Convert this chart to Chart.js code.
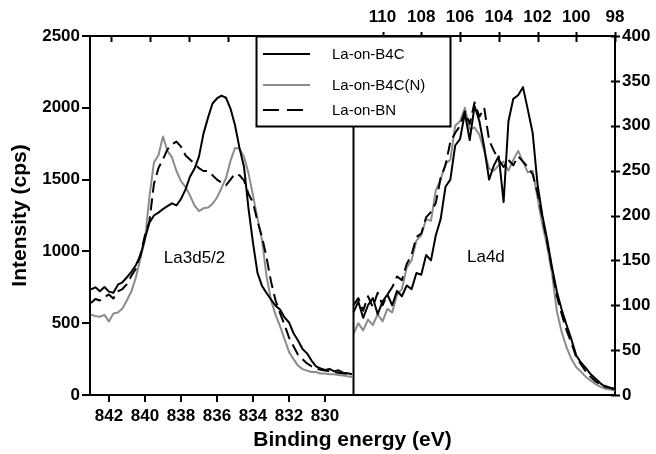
<!DOCTYPE html>
<html><head><meta charset="utf-8">
<script src="https://cdn.jsdelivr.net/npm/chart.js@4.4.1/dist/chart.umd.min.js"></script>
<style>html,body{margin:0;padding:0;background:#fff;}canvas{display:block;}</style>
</head><body>
<canvas id="c" width="656" height="454"></canvas>
<script>
// ---- data ----
const seriesNames = ['La-on-B4C', 'La-on-B4C(N)', 'La-on-BN'];
const panelLabels = ['La3d5/2', 'La4d'];

const energy3d = [843.0, 842.75, 842.5, 842.25, 842.0, 841.75, 841.5, 841.25, 841.0, 840.75, 840.5, 840.25, 840.0, 839.75, 839.5, 839.25, 839.0, 838.75, 838.5, 838.25, 838.0, 837.75, 837.5, 837.25, 837.0, 836.75, 836.5, 836.25, 836.0, 835.75, 835.5, 835.25, 835.0, 834.75, 834.5, 834.25, 834.0, 833.75, 833.5, 833.25, 833.0, 832.75, 832.5, 832.25, 832.0, 831.75, 831.5, 831.25, 831.0, 830.75, 830.5, 830.25, 830.0, 829.75, 829.5, 829.25, 829.0, 828.75, 828.5];
const b4c3d = [735, 750, 722, 752, 720, 712, 768, 785, 820, 858, 905, 970, 1090, 1200, 1250, 1270, 1295, 1315, 1335, 1320, 1365, 1430, 1520, 1575, 1660, 1820, 1930, 2030, 2065, 2085, 2070, 1995, 1880, 1720, 1590, 1300, 1060, 850, 760, 710, 665, 622, 595, 540, 505, 430, 380, 320, 290, 240, 200, 185, 175, 182, 165, 172, 155, 152, 145];
const b4cN3d = [560, 550, 545, 558, 512, 568, 575, 602, 660, 722, 820, 950, 1080, 1380, 1620, 1670, 1800, 1700, 1655, 1560, 1490, 1450, 1390, 1320, 1280, 1300, 1305, 1330, 1375, 1440, 1510, 1630, 1720, 1715, 1660, 1545, 1390, 1230, 1080, 830, 660, 560, 480, 390, 300, 250, 205, 180, 170, 160, 160, 150, 150, 145, 145, 140, 135, 130, 125];
const bn3d = [640, 668, 658, 682, 700, 672, 722, 738, 772, 830, 880, 980, 1110, 1210, 1470, 1580, 1640, 1710, 1745, 1765, 1730, 1670, 1640, 1610, 1580, 1560, 1560, 1530, 1500, 1480, 1460, 1500, 1540, 1530, 1495, 1400, 1340, 1210, 1100, 960, 790, 660, 570, 490, 400, 340, 280, 250, 220, 200, 185, 175, 170, 165, 160, 155, 150, 148, 145];

const energy4d = [111.5, 111.25, 111.0, 110.75, 110.5, 110.25, 110.0, 109.75, 109.5, 109.25, 109.0, 108.75, 108.5, 108.25, 108.0, 107.75, 107.5, 107.25, 107.0, 106.75, 106.5, 106.25, 106.0, 105.75, 105.5, 105.25, 105.0, 104.75, 104.5, 104.25, 104.0, 103.75, 103.5, 103.25, 103.0, 102.75, 102.5, 102.25, 102.0, 101.75, 101.5, 101.25, 101.0, 100.75, 100.5, 100.25, 100.0, 99.75, 99.5, 99.25, 99.0, 98.75, 98.5, 98.25, 98.0];
const b4c4d = [92, 104, 86, 100, 108, 90, 104, 112, 100, 116, 110, 122, 118, 136, 134, 156, 150, 178, 196, 232, 240, 278, 285, 314, 284, 322, 305, 276, 240, 256, 266, 215, 305, 330, 334, 343, 318, 292, 235, 200, 173, 142, 115, 95, 78, 62, 44, 36, 30, 23, 18, 13, 9, 8, 6];
const b4cN4d = [68, 80, 72, 84, 78, 90, 82, 96, 92, 112, 118, 142, 150, 172, 178, 196, 194, 228, 240, 258, 262, 300, 305, 320, 296, 298, 290, 272, 252, 250, 256, 260, 250, 262, 272, 260, 248, 250, 220, 190, 165, 135, 93, 70, 53, 40, 31, 26, 20, 16, 12, 9, 7, 6, 5];
const bn4d = [100, 108, 94, 110, 98, 114, 100, 112, 120, 132, 128, 146, 156, 176, 180, 198, 204, 214, 242, 256, 282, 292, 300, 316, 302, 326, 310, 320, 284, 272, 262, 254, 262, 256, 266, 260, 254, 246, 225, 198, 170, 140, 110, 90, 72, 58, 42, 34, 26, 20, 15, 12, 10, 8, 7];

const bottomTicks = [842, 840, 838, 836, 834, 832, 830];
const topTicks = [124, 122, 120, 118, 116, 114, 112, 110, 108, 106, 104, 102, 100, 98];
const topLabeled = [110, 108, 106, 104, 102, 100, 98];
const leftTicks = [0, 500, 1000, 1500, 2000, 2500];
const rightTicks = [0, 50, 100, 150, 200, 250, 300, 350, 400];

// ---- styles ----
const FONT = "'Liberation Sans', Arial, Helvetica, sans-serif";
const styleB4C = {borderColor: '#000000', borderWidth: 2, borderDash: []};
const styleB4CN = {borderColor: '#8c8c8c', borderWidth: 2, borderDash: []};
const styleBN = {borderColor: '#000000', borderWidth: 2, borderDash: [12, 6]};
const styles = [styleB4C, styleB4CN, styleBN];
const drawOrder = [1, 3, 2];

function pts(E, I) { return E.map((e, i) => ({x: e, y: I[i]})); }
const leftSeries = [b4c3d, b4cN3d, bn3d];
const rightSeries = [b4c4d, b4cN4d, bn4d];

const datasets = [];
seriesNames.forEach((name, k) => {
  datasets.push(Object.assign({label: name, data: pts(energy3d, leftSeries[k]), xAxisID: 'x', yAxisID: 'y',
    pointRadius: 0, tension: 0, fill: false, order: drawOrder[k], borderJoinStyle: 'round'}, styles[k]));
});
seriesNames.forEach((name, k) => {
  datasets.push(Object.assign({label: name, data: pts(energy4d, rightSeries[k]), xAxisID: 'x2', yAxisID: 'y2',
    pointRadius: 0, tension: 0, fill: false, order: drawOrder[k], borderJoinStyle: 'round'}, styles[k]));
});

const tickFont = {family: FONT, size: 17, weight: 'bold'};
const titleFont = {family: FONT, size: 21, weight: 'bold'};
const axisBorder = {display: true, color: '#000', width: 2};
const str = v => String(v);

const decor = {
  id: 'decor',
  afterDraw(chart) {
    const ctx = chart.ctx, a = chart.chartArea;
    const xb = chart.scales.x, xt = chart.scales.x2, yl = chart.scales.y, yr = chart.scales.y2;
    const seg = (x1, y1, x2, y2) => { ctx.beginPath(); ctx.moveTo(x1, y1); ctx.lineTo(x2, y2); ctx.stroke(); };
    ctx.save();
    ctx.strokeStyle = '#000'; ctx.lineWidth = 2; ctx.setLineDash([]);
    // panel divider (end of the La3d range)
    const dx = Math.round(xb.getPixelForValue(828.47)) + 0.5;
    seg(dx, a.top, dx, a.bottom);
    // top ticks
    topTicks.forEach(v => {
      const px = Math.round(xt.getPixelForValue(v)) + 0.5;
      seg(px, topLabeled.includes(v) ? a.top - 4 : a.top, px, a.top + 6);
    });
    // right ticks (crossing)
    rightTicks.forEach(v => {
      const py = Math.round(yr.getPixelForValue(v)) + 0.5;
      seg(a.right - 4, py, a.right + 5, py);
    });
    // panel labels
    ctx.fillStyle = '#000';
    ctx.font = '17px ' + FONT;
    ctx.textBaseline = 'middle'; ctx.textAlign = 'left';
    ctx.fillText(panelLabels[0], xb.getPixelForValue(838.95), yl.getPixelForValue(954));
    ctx.fillText(panelLabels[1], xt.getPixelForValue(105.64), yr.getPixelForValue(153));
    // legend box
    const L = 256, T = a.top, R = 450, B = 126;
    ctx.fillStyle = '#fff';
    ctx.fillRect(L, T, R - L, B - T);
    ctx.strokeStyle = '#000'; ctx.lineWidth = 2;
    ctx.strokeRect(L + 0.5, T + 0.5, R - L, B - T);
    const rows = [54, 85, 110];
    ctx.font = '15px ' + FONT;
    seriesNames.forEach((name, k) => {
      const st = styles[k];
      ctx.strokeStyle = st.borderColor; ctx.lineWidth = st.borderWidth;
      ctx.setLineDash(k === 2 ? [16, 8] : []);
      seg(263, rows[k], 310, rows[k]);
      ctx.setLineDash([]);
      ctx.fillStyle = '#000';
      ctx.fillText(name, 332, rows[k] + 1);
    });
    ctx.restore();
  }
};

new Chart(document.getElementById('c'), {
  type: 'line',
  data: {datasets},
  plugins: [decor],
  options: {
    responsive: false, animation: false, devicePixelRatio: 1,
    layout: {padding: 0},
    plugins: {legend: {display: false}, tooltip: {enabled: false}, title: {display: false}},
    scales: {
      x: {
        type: 'linear', position: 'bottom', reverse: true, min: 813.9, max: 843.05,
        afterBuildTicks: s => { s.ticks = bottomTicks.map(v => ({value: v})); },
        afterFit: s => { s.height = 59; },
        grid: {display: true, drawOnChartArea: false, drawTicks: true, tickLength: 7, color: '#000', lineWidth: 2},
        border: axisBorder,
        ticks: {font: tickFont, color: '#000', padding: 4, maxRotation: 0, autoSkip: false, callback: str},
        title: {display: true, text: 'Binding energy (eV)', font: titleFont, color: '#000', padding: {top: 0, bottom: 1}}
      },
      x2: {
        type: 'linear', position: 'top', reverse: true, min: 98, max: 125.1,
        afterBuildTicks: s => { s.ticks = topTicks.map(v => ({value: v})); },
        afterFit: s => { s.height = 36; },
        grid: {display: false, drawTicks: false, tickLength: 0},
        border: axisBorder,
        ticks: {font: tickFont, color: '#000', padding: 8, maxRotation: 0, autoSkip: false,
          callback: v => topLabeled.includes(v) ? String(v) : ''}
      },
      y: {
        type: 'linear', position: 'left', min: 0, max: 2500,
        afterBuildTicks: s => { s.ticks = leftTicks.map(v => ({value: v})); },
        afterFit: s => { s.width = 90; },
        grid: {display: true, drawOnChartArea: false, drawTicks: true, tickLength: 8, color: '#000', lineWidth: 2},
        border: axisBorder,
        ticks: {font: tickFont, color: '#000', padding: 2, callback: str},
        title: {display: true, text: 'Intensity (cps)', font: titleFont, color: '#000', padding: {top: 8, bottom: 0}}
      },
      y2: {
        type: 'linear', position: 'right', min: 0, max: 400,
        afterBuildTicks: s => { s.ticks = rightTicks.map(v => ({value: v})); },
        afterFit: s => { s.width = 41; },
        grid: {display: false, drawTicks: false, tickLength: 0},
        border: axisBorder,
        ticks: {font: tickFont, color: '#000', padding: 7, callback: str}
      }
    }
  }
});
</script>
</body></html>
